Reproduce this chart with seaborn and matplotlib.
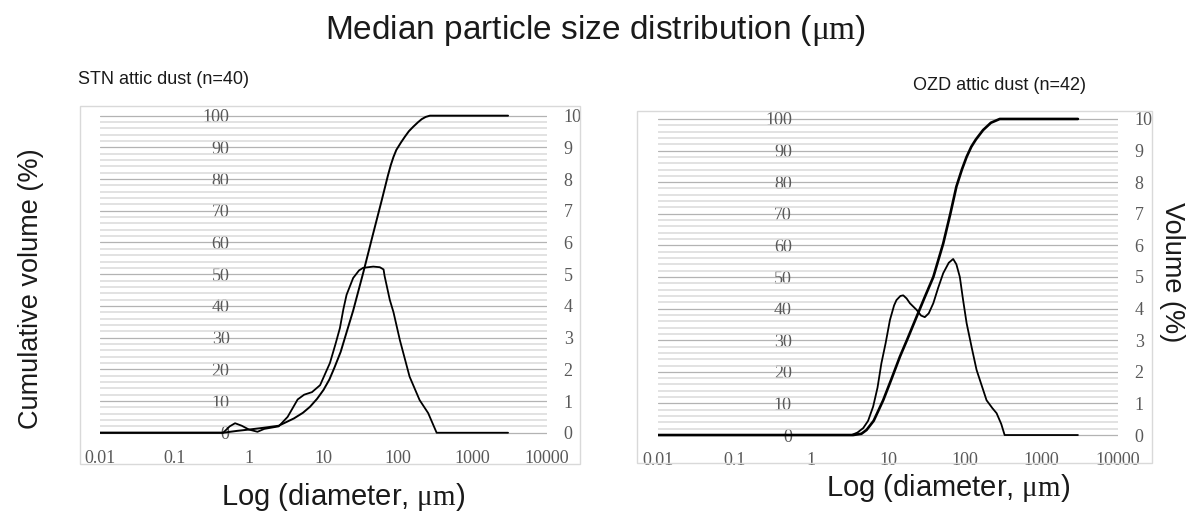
import numpy as np
import pandas as pd
import matplotlib
matplotlib.use("Agg")
import matplotlib.pyplot as plt
import seaborn as sns
from matplotlib.patches import Rectangle
from matplotlib.ticker import NullLocator

# ---------------- data ----------------
x_ticks = [0.01, 0.1, 1, 10, 100, 1000, 10000]
x_tick_labels = ["0.01", "0.1", "1", "10", "100", "1000", "10000"]
cum_ticks = list(range(0, 101, 10))
vol_ticks = list(range(0, 11))

# STN attic dust (n=40)
stn_cum_d = [0.01, 0.45, 0.7, 1.0, 1.5, 2.5, 4.0, 5.3, 6.6, 8.2, 10, 12, 14, 17, 20, 25, 34,
             46.5, 60, 73, 80, 87, 95, 110, 124, 140, 160, 185, 208, 235, 268, 300, 3000]
stn_cum_v = [0, 0, 0.6, 1.0, 1.5, 2.2, 4.5, 6.3, 8.2, 10.7, 13.5, 16.8, 20.5, 25.5, 31,
             38.5, 50.3, 62.9, 73, 81, 84.4, 87, 89.2, 91.6, 93.4, 95.1, 96.5, 97.9, 98.9,
             99.6, 100, 100, 100]
stn_vol_d = [0.01, 0.45, 0.55, 0.65, 0.8, 1.0, 1.3, 1.6, 2.5, 3.3, 4.5, 5.5, 7, 9, 12.2,
             14.5, 16.6, 18.5, 20.4, 25, 30, 34, 46.5, 57, 64, 66, 77.6, 87, 106, 143, 195,
             254, 330, 3000]
stn_vol_v = [0, 0, 0.2, 0.3, 0.22, 0.1, 0.03, 0.12, 0.2, 0.5, 1.05, 1.2, 1.28, 1.5, 2.2,
             2.8, 3.3, 3.9, 4.35, 4.88, 5.12, 5.2, 5.24, 5.22, 5.15, 4.95, 4.19, 3.8, 2.92,
             1.77, 1.03, 0.62, 0, 0]

# OZD attic dust (n=42)
ozd_cum_d = [0.01, 3.5, 4.5, 5.25, 6.5, 8.65, 11, 14.3, 18, 23.6, 30, 39, 52.5, 65, 78,
             92, 106, 122, 140, 174, 220, 287, 3000]
ozd_cum_v = [0, 0, 0.4, 1.6, 4.5, 11, 17.5, 24.8, 30.5, 37.4, 43.5, 50, 60.6, 70, 78.6,
             84, 88, 91.2, 93.5, 96.5, 98.8, 100, 100]
ozd_vol_d = [0.01, 3.35, 4.0, 4.75, 5.5, 6.4, 7.3, 8.2, 9.3, 10.6, 12.0, 12.9, 14.5, 15.8,
             17.5, 19.3, 23.6, 27, 30.2, 34, 39, 45, 52.5, 62, 70.8, 78, 86.5, 95, 106,
             124, 143, 193, 230, 261, 300, 332, 3000]
ozd_vol_v = [0, 0, 0.08, 0.22, 0.45, 0.9, 1.5, 2.27, 2.9, 3.64, 4.1, 4.27, 4.4, 4.42,
             4.32, 4.17, 3.96, 3.78, 3.73, 3.85, 4.17, 4.65, 5.12, 5.45, 5.57, 5.4, 5.0,
             4.3, 3.54, 2.75, 2.06, 1.1, 0.85, 0.69, 0.35, 0, 0]

title = "Median particle size distribution ($\\mathrm{μm}$)"
panel_titles = ["STN attic dust (n=40)", "OZD attic dust (n=42)"]
x_label = "Log (diameter, $\\mathrm{μm}$)"
y_left_label = "Cumulative volume (%)"
y_right_label = "Volume (%)"

# ---------------- style ----------------
sns.set_theme(style="white")
plt.rcParams["font.family"] = ["Liberation Sans", "DejaVu Sans"]
plt.rcParams["mathtext.fontset"] = "custom"
plt.rcParams["mathtext.rm"] = "Liberation Serif"
plt.rcParams["mathtext.it"] = "Liberation Serif:italic"
plt.rcParams["mathtext.bf"] = "Liberation Serif:bold"

W, H = 1187, 520
fig = plt.figure(figsize=(W / 100, H / 100), dpi=100)
fig.patch.set_facecolor("white")

TICK_COLOR = "#595959"
TEXT_COLOR = "#1a1a1a"
TICK_SIZE = 13


def px_rect(x0, y0, x1, y1):
    return [x0 / W, 1 - y1 / H, (x1 - x0) / W, (y1 - y0) / H]


panels = [
    dict(rect=px_rect(100, 112.5, 547, 435.9), vol_lim=(-0.1, 10.1), cum_lim=(-1, 101),
         border=(80, 106, 580, 464),
         cum=(stn_cum_d, stn_cum_v), vol=(stn_vol_d, stn_vol_v), cum_lw=1.4),
    dict(rect=px_rect(658, 115.8, 1118, 438.2), vol_lim=(-0.1, 10.1), cum_lim=(-1, 101),
         border=(637, 111, 1152, 463),
         cum=(ozd_cum_d, ozd_cum_v), vol=(ozd_vol_d, ozd_vol_v), cum_lw=1.9),
]

for p in panels:
    bx0, by0, bx1, by1 = p["border"]
    fig.patches.append(Rectangle((bx0 / W, 1 - by1 / H), (bx1 - bx0) / W, (by1 - by0) / H,
                                 transform=fig.transFigure, fill=False,
                                 edgecolor="#d9d9d9", linewidth=1.0))

    ax = fig.add_axes(p["rect"])
    ax.set_facecolor("none")
    ax.set_xscale("log")
    ax.set_xlim(0.01, 10000)
    ax.set_ylim(*p["cum_lim"])
    ax.set_yticks(cum_ticks)
    ax.set_yticks(list(range(0, 101, 2)), minor=True)
    ax.grid(False)
    ax.yaxis.grid(True, which="minor", color="#dadada", linewidth=1.1, zorder=0)
    ax.yaxis.grid(True, which="major", color="#b3b3b3", linewidth=0.9, zorder=0)
    ax.set_axisbelow(True)
    for s in ax.spines.values():
        s.set_visible(False)
    ax.spines["left"].set_position(("data", 1))
    ax.set_xticks(x_ticks)
    ax.set_xticklabels(x_tick_labels)
    ax.xaxis.set_minor_locator(NullLocator())
    ax.tick_params(axis="x", length=0, pad=10)
    ax.tick_params(axis="y", which="both", length=0, pad=14)
    for lab in ax.get_xticklabels() + ax.get_yticklabels():
        lab.set_fontfamily("Liberation Serif")
        lab.set_fontsize(TICK_SIZE)
        lab.set_color(TICK_COLOR)

    sns.lineplot(x=p["cum"][0], y=p["cum"][1], ax=ax, color="black",
                 linewidth=p["cum_lw"], zorder=3)
    ax.set_xlabel("")
    ax.set_ylabel("")

    ax2 = ax.twinx()
    ax2.set_facecolor("none")
    ax2.set_ylim(*p["vol_lim"])
    ax2.grid(False)
    for s in ax2.spines.values():
        s.set_visible(False)
    sns.lineplot(x=p["vol"][0], y=p["vol"][1], ax=ax2, color="black",
                 linewidth=1.3, zorder=3)
    ax2.set_xlabel("")
    ax2.set_ylabel("")
    ax2.set_yticks(vol_ticks)
    ax2.set_yticklabels([str(v) for v in vol_ticks])
    ax2.tick_params(axis="y", length=0, pad=12)
    for lab in ax2.get_yticklabels():
        lab.set_fontfamily("Liberation Serif")
        lab.set_fontsize(TICK_SIZE)
        lab.set_color(TICK_COLOR)

# ---------------- texts ----------------
fig.text(595 / W, 1 - 31 / H, title, ha="center", va="center", fontsize=24, color=TEXT_COLOR)
fig.text(78 / W, 1 - 79 / H, panel_titles[0], ha="left", va="center", fontsize=13,
         color=TEXT_COLOR)
fig.text(913 / W, 1 - 85 / H, panel_titles[1], ha="left", va="center", fontsize=13,
         color=TEXT_COLOR)
fig.text(31 / W, 1 - 289 / H, y_left_label, rotation=90, ha="center", va="center",
         fontsize=19.5, color=TEXT_COLOR)
fig.text(1172 / W, 1 - 272 / H, y_right_label, rotation=270, ha="center", va="center",
         fontsize=19.5, color=TEXT_COLOR)
fig.text(343 / W, 1 - 497 / H, x_label, ha="center", va="center", fontsize=21,
         color=TEXT_COLOR)
fig.text(948 / W, 1 - 488 / H, x_label, ha="center", va="center", fontsize=21,
         color=TEXT_COLOR)

fig.savefig("out.png", dpi=100, facecolor="white")
